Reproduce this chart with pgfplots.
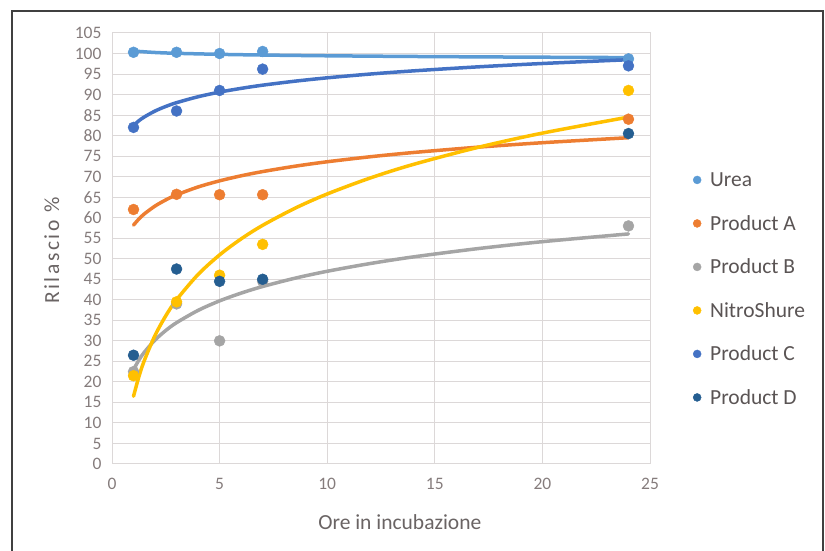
\documentclass[border=0pt]{standalone}
\usepackage{fontspec}
\setmainfont{Carlito}
\usepackage{pgfplots}
\pgfplotsset{compat=1.18}
\definecolor{cUrea}{HTML}{5B9BD5}
\definecolor{cA}{HTML}{ED7D31}
\definecolor{cB}{HTML}{A5A5A5}
\definecolor{cN}{HTML}{FFC000}
\definecolor{cC}{HTML}{4472C4}
\definecolor{cD}{HTML}{255E91}
\definecolor{gridc}{HTML}{DCD8D8}
\definecolor{tickc}{HTML}{857C7C}
\definecolor{labc}{HTML}{6A6464}
\definecolor{legc}{HTML}{5A5454}
\begin{document}
\begin{tikzpicture}[x=1pt,y=1pt]
\useasboundingbox (0,0) rectangle (825,551);
\draw[color=black!75, line width=1.5pt] (12,-5) -- (12,540) -- (823,540) -- (823,-5);
\begin{axis}[
  at={(112pt,87pt)}, anchor=south west,
  scale only axis, width=538pt, height=431pt,
  xmin=0, xmax=25, ymin=0, ymax=105,
  xtick={0,5,...,25}, ytick={0,5,...,105},
  grid=major, major grid style={gridc, line width=1pt},
  axis line style={gridc, line width=1pt},
  tick style={draw=none},
  ticklabel style={font=\fontsize{17.5}{17.5}\selectfont, text=tickc},
  /pgf/number format/assume math mode=true,
  xticklabel style={yshift=-11pt},
  yticklabel style={xshift=-7pt},
  xlabel={Ore in incubazione},
  ylabel={\addfontfeature{LetterSpace=12}Rilascio \%},
  label style={font=\fontsize{21.5}{21.5}\selectfont, text=labc},
  xlabel style={at={(axis description cs:0.535,-0.135)}, anchor=center},
  ylabel style={at={(axis description cs:-0.112,0.495)}, anchor=center, rotate=0},
  legend style={at={(axis description cs:1.078,0.71)}, anchor=north west,
    draw=none, fill=none, inner sep=0pt, row sep=0pt,
    font=\fontsize{21.5}{21.5}\selectfont, text=legc,
    nodes={inner sep=0pt, minimum height=43.5pt, anchor=west}},
  legend cell align=left,
  legend image code/.code={\draw[mark size=4pt,#1] plot[only marks] coordinates {(5pt,0pt)}; \path[draw=none] (0pt,0pt) -- (18pt,0pt);},
  clip=false,
]
% Urea
\addplot[only marks, mark=*, mark size=5.5pt, cUrea, mark options={draw=cUrea, fill=cUrea}] coordinates {(1,100.3)(3,100.3)(5,100)(7,100.5)(24,98.7)};
\addlegendentry{Urea}
\addplot[cUrea, line width=3.5pt, line cap=round, smooth, forget plot] coordinates {(1,100.6)(2,100.25)(3,100.05)(5,99.8)(7,99.63)(10,99.45)(14,99.28)(20,99.1)(24,99.01)};
% Product A
\addplot[only marks, mark=*, mark size=5.5pt, cA, mark options={draw=cA, fill=cA}] coordinates {(1,62)(3,65.7)(5,65.6)(7,65.6)(24,84)};
\addlegendentry{Product A}
\addplot[cA, line width=3.5pt, line cap=round, smooth, forget plot] coordinates {(1,58.2)(1.25,59.69)(1.5,60.92)(2,62.84)(2.5,64.34)(3,65.56)(4,67.49)(5,68.98)(6,70.21)(7,71.24)(8.5,72.54)(10,73.63)(12,74.85)(14,75.88)(17,77.18)(20,78.27)(24,79.49)};
% Product B
\addplot[only marks, mark=*, mark size=5.5pt, cB, mark options={draw=cB, fill=cB}] coordinates {(1,22.5)(3,39)(5,30)(7,44.5)(24,58)};
\addlegendentry{Product B}
\addplot[cB, line width=3.5pt, line cap=round, smooth, forget plot] coordinates {(1,23)(1.25,25.32)(1.5,27.22)(2,30.21)(2.5,32.53)(3,34.43)(4,37.42)(5,39.74)(6,41.63)(7,43.24)(8.5,45.26)(10,46.95)(12,48.84)(14,50.45)(17,52.47)(20,54.16)(24,56.05)};
% NitroShure
\addplot[only marks, mark=*, mark size=5.5pt, cN, mark options={draw=cN, fill=cN}] coordinates {(1,21.5)(3,39.5)(5,46)(7,53.5)(24,91)};
\addlegendentry{NitroShure}
\addplot[cN, line width=3.5pt, line cap=round, smooth, forget plot] coordinates {(1,16.5)(1.25,21.27)(1.5,25.18)(2,31.33)(2.5,36.11)(3,40.01)(4,46.17)(5,50.94)(6,54.84)(7,58.14)(8.5,62.30)(10,65.78)(12,69.68)(14,72.98)(17,77.13)(20,80.61)(24,84.51)};
% Product C
\addplot[only marks, mark=*, mark size=5.5pt, cC, mark options={draw=cC, fill=cC}] coordinates {(1,82)(3,86)(5,91)(7,96.2)(24,97)};
\addlegendentry{Product C}
\addplot[cC, line width=3.5pt, line cap=round, smooth, forget plot] coordinates {(1,82.5)(1.25,83.62)(1.5,84.54)(2,85.99)(2.5,87.11)(3,88.03)(4,89.47)(5,90.6)(6,91.51)(7,92.29)(8.5,93.26)(10,94.08)(12,95.0)(14,95.77)(17,96.75)(20,97.57)(24,98.49)};
% Product D
\addplot[only marks, mark=*, mark size=5.5pt, cD, mark options={draw=cD, fill=cD}] coordinates {(1,26.5)(3,47.5)(5,44.5)(7,45)(24,80.5)};
\addlegendentry{Product D}
\end{axis}
\end{tikzpicture}
\end{document}
